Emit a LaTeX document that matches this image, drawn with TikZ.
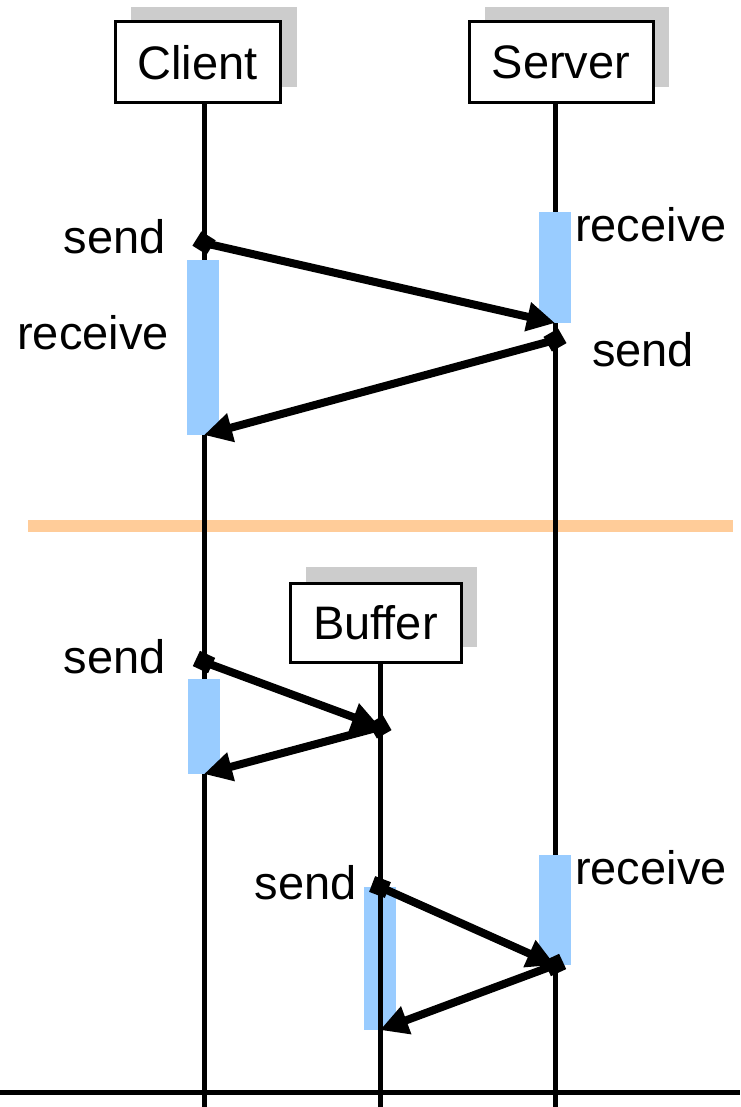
\documentclass[tikz,border=0pt]{standalone}
\usepackage{fontspec}
\setmainfont{Liberation Sans}
\usetikzlibrary{arrows.meta,shapes.geometric}
\definecolor{actblue}{HTML}{99CCFF}
\definecolor{shadowgrey}{HTML}{CCCCCC}
\definecolor{sepor}{HTML}{FFCC99}
\begin{document}
\begin{tikzpicture}[x=1pt,y=-1pt,
  txt/.style={font=\fontsize{47}{54}\selectfont, inner sep=0pt},
  objbox/.style={draw=black, line width=3pt, fill=white, font=\fontsize{47}{54}\selectfont, inner sep=0pt},
  life/.style={line width=5pt},
  act/.style={fill=actblue, draw=none},
  msg/.style={line width=8pt, -{Triangle[length=28pt,width=28pt]}},
  dot/.style={diamond, fill=black, inner sep=0pt, minimum size=24pt}
]
\useasboundingbox (0,0) rectangle (740,1107);
% separator
\draw[sepor, line width=12pt] (28,526) -- (733,526);
% shadows
\fill[shadowgrey] (131,7) rectangle (297,87);
\fill[shadowgrey] (485,7) rectangle (669,87);
\fill[shadowgrey] (306,567) rectangle (477,647);
% lifelines
\draw[life] (204,103) -- (204,1107);
\draw[life] (555,103) -- (555,1107);
\draw[life] (380,662) -- (380,1107);
% bottom line
\draw[line width=5pt] (0,1092) -- (740,1092);
% activation bars
\fill[act] (187,260) rectangle (219,435);
\fill[act] (539,212) rectangle (571,323);
\fill[act] (188,679) rectangle (220,774);
\fill[act] (364,887) rectangle (396,1030);
\fill[act] (539,855) rectangle (571,965);
\draw[life] (380,887) -- (380,1030);
% boxes
\node[objbox, minimum width=165pt, minimum height=81pt] (client) at (197.5,62.5) {Client};
\node[objbox, minimum width=184pt, minimum height=81pt] (server) at (561,62.5) {Server};
\node[objbox, minimum width=171pt, minimum height=79pt] (buffer) at (375.5,622.5) {Buffer};
% message points
\coordinate (r1) at (555,323);
\coordinate (r2) at (204,435);
\coordinate (r3) at (380,727);
\coordinate (r4) at (204,774);
\coordinate (r5) at (555,965);
\coordinate (r6) at (380,1030);
\node[dot, rotate=13] (s1) at (204,243) {};
\node[dot, rotate=-15] (s2) at (555,340) {};
\node[dot, rotate=20] (s3) at (204,662) {};
\node[dot, rotate=-15] (s4) at (380,727) {};
\node[dot, rotate=24] (s5) at (380,887) {};
\node[dot, rotate=-20] (s6) at (555,965) {};
\draw[msg] (s1.center) -- (r1);
\draw[msg] (s2.center) -- (r2);
\draw[msg] (s3.center) -- (r3);
\draw[msg] (s4.center) -- (r4);
\draw[msg] (s5.center) -- (r5);
\draw[msg] (s6.center) -- (r6);
% labels
\node[txt, anchor=east] (l1) at (166,237) {send};
\node[txt, anchor=west] (l2) at (575,225) {receive};
\node[txt, anchor=east] (l3) at (169,333) {receive};
\node[txt, anchor=west] (l4) at (592,350) {send};
\node[txt, anchor=east] (l5) at (166,657) {send};
\node[txt, anchor=east] (l6) at (357,883) {send};
\node[txt, anchor=west] (l7) at (575,868) {receive};
\end{tikzpicture}
\end{document}
